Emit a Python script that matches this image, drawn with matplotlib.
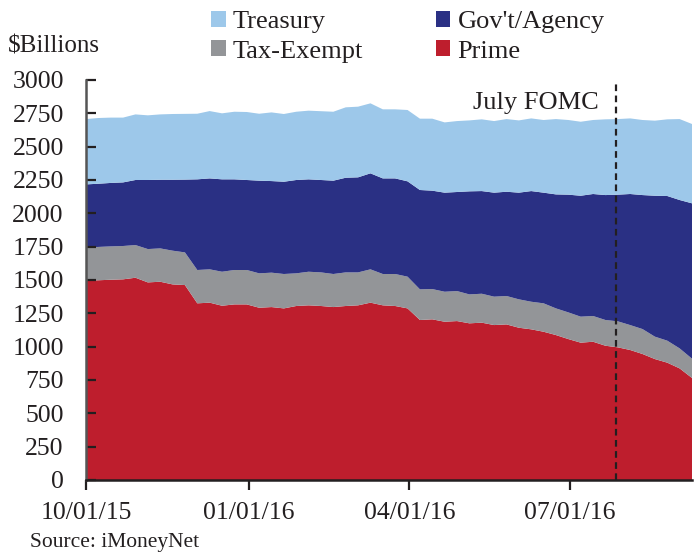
import matplotlib
matplotlib.use("Agg")
import matplotlib.pyplot as plt
import matplotlib.dates as mdates
import numpy as np
import pandas as pd

plt.rcParams['font.family'] = ['Liberation Serif', 'DejaVu Serif']

dates = pd.date_range("2015-10-01", periods=50, freq="7D")

prime = [1495, 1498, 1502, 1505, 1517, 1482, 1487, 1467, 1462, 1325,
         1330, 1307, 1317, 1317, 1292, 1297, 1287, 1305, 1310, 1305,
         1297, 1305, 1310, 1330, 1310, 1305, 1287, 1200, 1205, 1187,
         1192, 1175, 1180, 1162, 1167, 1142, 1130, 1112, 1087, 1057,
         1030, 1037, 1007, 995, 975, 945, 907, 880, 837, 765]
tax_exempt = [250, 250, 250, 250, 245, 250, 250, 253, 245, 250,
              250, 255, 258, 258, 258, 258, 258, 245, 252, 252,
              248, 252, 247, 250, 235, 240, 238, 230, 227, 225,
              225, 217, 217, 213, 213, 213, 207, 213, 200, 200,
              195, 193, 193, 195, 187, 187, 168, 165, 150, 145]
gov_agency = [472, 474, 476, 477, 488, 518, 515, 532, 546, 680,
              682, 693, 680, 675, 695, 687, 692, 700, 693, 693,
              700, 710, 713, 720, 717, 717, 715, 745, 738, 743,
              743, 773, 770, 780, 782, 800, 830, 830, 855, 883,
              907, 915, 937, 950, 983, 1005, 1057, 1085, 1113, 1165]
treasury = [490, 493, 490, 486, 492, 485, 490, 493, 493, 492,
            505, 495, 507, 510, 502, 515, 508, 512, 515, 516,
            517, 528, 530, 525, 518, 518, 535, 535, 540, 527,
            532, 532, 538, 537, 545, 542, 545, 545, 565, 560,
            555, 555, 568, 567, 567, 563, 563, 575, 607, 595]

series_names = ["Prime", "Tax-Exempt", "Gov't/Agency", "Treasury"]
colors = ["#BE1E2D", "#939598", "#2A3084", "#9DC8EA"]
fomc_date = pd.Timestamp("2016-07-27")
xtick_dates = pd.to_datetime(["2015-10-01", "2016-01-01", "2016-04-01", "2016-07-01"])
yticks = np.arange(0, 3001, 250)

text_color = "#231F20"

fig = plt.figure(figsize=(6.94, 5.56), dpi=100)
ax = fig.add_axes([86/694, 76/556, 606/694, 400/556])

polys = ax.stackplot(dates, prime, tax_exempt, gov_agency, treasury,
                     colors=colors, labels=series_names, linewidth=0)

ax.axvline(fomc_date, ymin=0, ymax=1, color=text_color, linestyle=(0, (3, 2)), linewidth=1.6)
ax.text(fomc_date - pd.Timedelta(days=9.5), 2830, "July FOMC", ha="right", va="center",
        fontsize=19, color=text_color)

ax.set_xlim(dates[0], dates[-1])
ax.set_ylim(0, 3000)
ax.set_yticks(yticks)
ax.set_xticks(xtick_dates)
ax.xaxis.set_major_formatter(mdates.DateFormatter("%m/%d/%y"))

for s in ["top", "right"]:
    ax.spines[s].set_visible(False)
for s in ["left", "bottom"]:
    ax.spines[s].set_color(text_color)
    ax.spines[s].set_linewidth(1.8)
ax.spines["left"].set_color("#555555")

ax.tick_params(axis="y", direction="in", length=7, width=1.6, colors=text_color,
               labelsize=18.5, pad=16)
ax.tick_params(axis="x", direction="out", length=7, width=1.6, colors=text_color,
               labelsize=18.5, pad=9)

fig.text(8/694, 1 - 46/556, "$Billions", ha="left", va="center", fontsize=18, color=text_color)
fig.text(30/694, 1 - 543/556, "Source: iMoneyNet", ha="left", va="center", fontsize=15.5,
         color=text_color)

handles = [polys[3], polys[1], polys[2], polys[0]]
labels = ["Treasury", "Tax-Exempt", "Gov't/Agency", "Prime"]
leg = fig.legend(handles, labels, ncol=2, loc="upper left",
                 bbox_to_anchor=(198/694, 1 + 2/556), frameon=False,
                 fontsize=19, handlelength=0.55, handleheight=0.55,
                 handletextpad=0.27, columnspacing=2.75, labelspacing=0.26,
                 borderpad=0.0, labelcolor=text_color)

fig.savefig("out.png", dpi=100)
